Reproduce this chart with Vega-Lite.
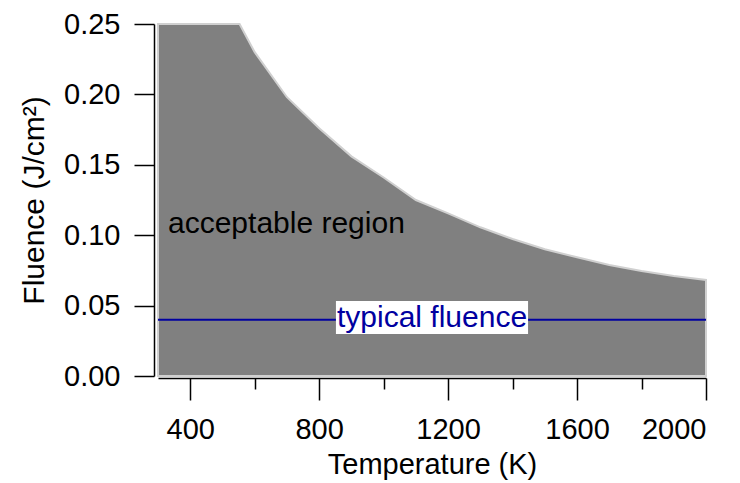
{
  "$schema": "https://vega.github.io/schema/vega-lite/v6.json",
  "width": 548,
  "height": 352,
  "autosize": {"type": "none"},
  "padding": {"left": 158, "top": 24, "right": 34, "bottom": 107},
  "config": {
    "view": {"stroke": null},
    "font": "Liberation Sans",
    "axis": {
      "domainColor": "#000000",
      "domainWidth": 1.5,
      "tickColor": "#000000",
      "tickWidth": 1.5,
      "labelColor": "#000000",
      "titleColor": "#000000",
      "labelFont": "Liberation Sans",
      "titleFont": "Liberation Sans",
      "labelFontSize": 29,
      "titleFontSize": 29,
      "titleFontWeight": "normal",
      "grid": false
    }
  },
  "layer": [
    {
      "data": {
        "values": [
          {"T": 300, "F": 0.25},
          {"T": 553, "F": 0.25},
          {"T": 600, "F": 0.230},
          {"T": 700, "F": 0.198},
          {"T": 800, "F": 0.176},
          {"T": 900, "F": 0.156},
          {"T": 1000, "F": 0.141},
          {"T": 1100, "F": 0.125},
          {"T": 1200, "F": 0.1155},
          {"T": 1300, "F": 0.1056},
          {"T": 1400, "F": 0.0973},
          {"T": 1500, "F": 0.090},
          {"T": 1600, "F": 0.0843},
          {"T": 1700, "F": 0.0788},
          {"T": 1800, "F": 0.0746},
          {"T": 1900, "F": 0.071},
          {"T": 2000, "F": 0.0682}
        ]
      },
      "mark": {"type": "area", "fill": "#808080", "stroke": "#d0d0d0", "strokeWidth": 2},
      "encoding": {
        "x": {
          "field": "T",
          "type": "quantitative",
          "scale": {"domain": [300, 2000], "nice": false, "zero": false},
          "axis": {
            "title": "Temperature (K)",
            "values": [400, 600, 800, 1000, 1200, 1400, 1600, 1800, 2000],
            "labelExpr": "datum.value % 400 == 0 ? datum.label : ''",
            "format": "d",
            "offset": 2,
            "tickSize": {"condition": {"test": "datum.value % 400 == 0", "value": 22}, "value": 11},
            "labelPadding": 15,
            "titlePadding": 6
          }
        },
        "y": {
          "field": "F",
          "type": "quantitative",
          "scale": {"domain": [0, 0.25], "nice": false},
          "axis": {
            "title": "Fluence (J/cm²)",
            "titleFontSize": 30,
            "values": [0, 0.05, 0.1, 0.15, 0.2, 0.25],
            "format": ".2f",
            "offset": 4,
            "tickSize": 20,
            "labelPadding": 14,
            "titlePadding": 14
          }
        }
      }
    },
    {
      "data": {"values": [{}]},
      "mark": {"type": "rule", "color": "#0000a0", "strokeWidth": 2},
      "encoding": {"y": {"datum": 0.04, "type": "quantitative"}}
    },
    {
      "data": {"values": [{}]},
      "mark": {"type": "rect", "fill": "#ffffff"},
      "encoding": {
        "x": {"datum": 852, "type": "quantitative"},
        "x2": {"datum": 1448},
        "y": {"datum": 0.0298, "type": "quantitative"},
        "y2": {"datum": 0.0533}
      }
    },
    {
      "data": {"values": [{}]},
      "mark": {"type": "text", "text": "typical fluence", "color": "#0000a0", "fontSize": 30, "align": "center", "baseline": "alphabetic", "font": "Liberation Sans"},
      "encoding": {
        "x": {"datum": 1150, "type": "quantitative"},
        "y": {"datum": 0.0345, "type": "quantitative"}
      }
    },
    {
      "data": {"values": [{}]},
      "mark": {"type": "text", "text": "acceptable region", "color": "#000000", "fontSize": 30, "align": "left", "baseline": "alphabetic", "font": "Liberation Sans"},
      "encoding": {
        "x": {"datum": 331, "type": "quantitative"},
        "y": {"datum": 0.1013, "type": "quantitative"}
      }
    }
  ]
}
